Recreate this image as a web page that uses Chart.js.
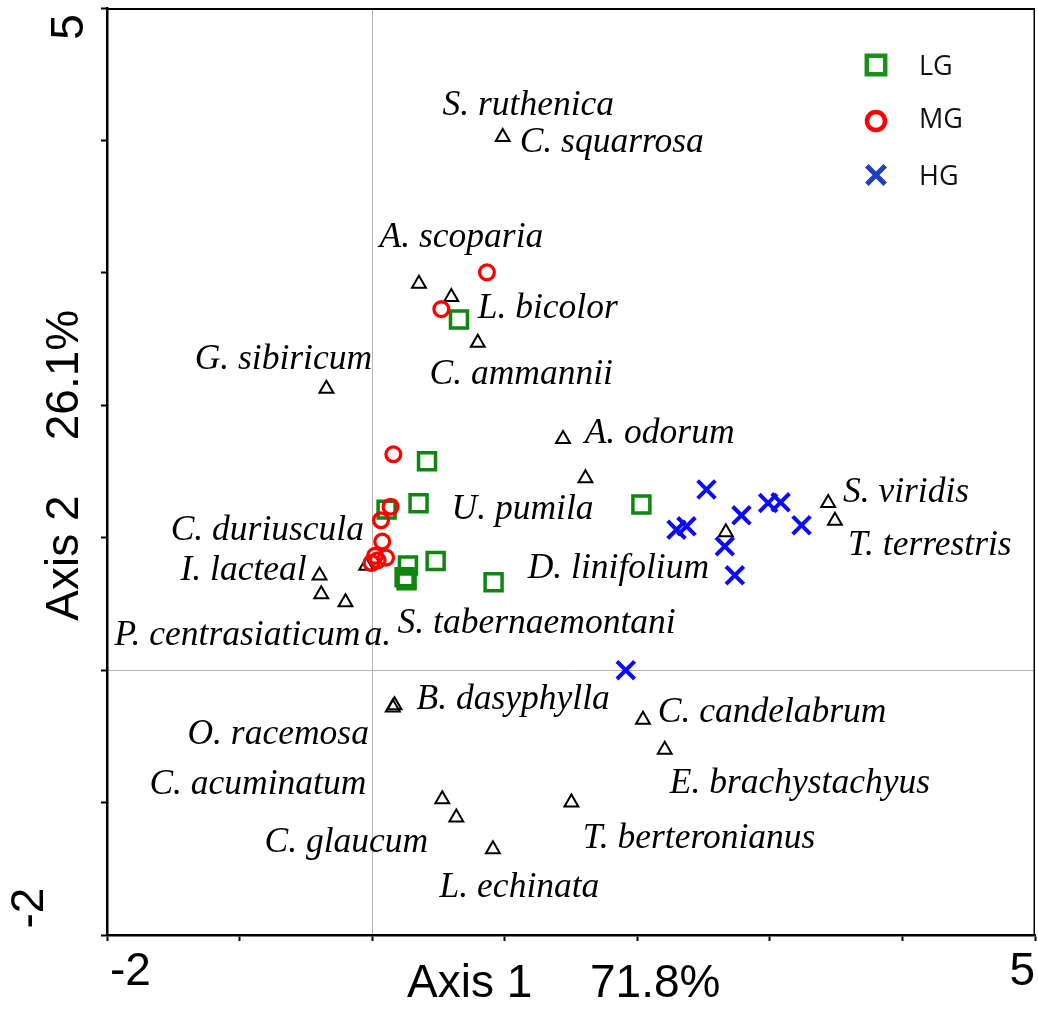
<!DOCTYPE html>
<html><head><meta charset="utf-8">
<script src="https://cdn.jsdelivr.net/npm/chart.js@4.4.1/dist/chart.umd.min.js"></script>
<style>html,body{margin:0;padding:0;background:#fff;overflow:hidden}canvas{display:block}</style>
</head><body>
<canvas id="c" width="1038" height="1010"></canvas>
<script>
// ---- data ----
const lgX = [0.655, 0.414, 0.350, 0.109, 2.031, 0.479, 0.270, 0.245, 0.260, 0.916];
const lgY = [2.648, 1.577, 1.260, 1.212, 1.250, 0.824, 0.791, 0.701, 0.678, 0.664];
const mgX = [0.866, 0.522, 0.160, 0.139, 0.067, 0.076, 0.105, 0.022, -0.005, 0.041];
const mgY = [3.004, 2.726, 1.630, 1.234, 1.132, 0.971, 0.850, 0.863, 0.809, 0.829];
const hgX = [2.522, 2.296, 2.371, 2.660, 2.786, 2.987, 3.081, 3.239, 2.736, 1.913];
const hgY = [1.364, 1.061, 1.086, 0.935, 1.169, 1.262, 1.267, 1.094, 0.716, 0.000];
const spX = [0.985, 0.353, 0.597, 0.797, -0.345, 1.440, 1.609, 2.668, 3.440, 3.491, -0.397, -0.384, -0.201, -0.045, 0.169, 0.156, 2.043, 2.207, 0.529, 0.635, 1.503, 0.911];
const spY = [4.026, 2.918, 2.817, 2.472, 2.124, 1.746, 1.449, 1.041, 1.262, 1.129, 0.714, 0.574, 0.512, 0.789, -0.265, -0.282, -0.375, -0.602, -0.975, -1.113, -1.000, -1.353];

const labelText = ['S. ruthenica','C. squarrosa','A. scoparia','L. bicolor','G. sibiricum','C. ammannii','A. odorum','S. viridis','U. pumila','C. duriuscula','T. terrestris','I. lacteal','D. linifolium','S. tabernaemontani','P. centrasiaticum','a.','B. dasyphylla','C. candelabrum','O. racemosa','C. acuminatum','E. brachystachyus','T. berteronianus','C. glaucum','L. echinata'];
const labelX = [0.531, 1.113, 0.056, 0.796, -1.339, 0.433, 1.603, 3.551, 0.599, -1.520, 3.589, -1.446, 1.173, 0.192, -1.944, -0.057, 0.335, 2.154, -1.393, -1.680, 2.245, 1.588, -0.812, 0.509];
const labelY = [4.276, 3.996, 3.278, 2.741, 2.356, 2.243, 1.797, 1.359, 1.230, 1.071, 0.958, 0.769, 0.784, 0.363, 0.277, 0.277, -0.206, -0.305, -0.471, -0.849, -0.841, -1.257, -1.287, -1.627];

const groupNames = ['LG','MG','HG'];
const xRange = [-2, 5];
const yRange = [-2, 5];
const xTitleA = 'Axis 1';
const xTitleB = '71.8%';
const yTitleA = 'Axis 2';
const yTitleB = '26.1%';

const pts = (xs, ys) => xs.map((v, i) => ({x: v, y: ys[i]}));
const GREEN = '#0f870f', RED = '#ff0000', BLUE = '#0a0aff';

const annot = {
  id: 'annot',
  beforeDatasetsDraw(chart) {
    const {ctx, scales: {x, y}} = chart;
    ctx.save();
    ctx.fillStyle = '#000';
    ctx.font = 'italic 35.5px "Liberation Serif", "Times New Roman", serif';
    ctx.textAlign = 'left';
    ctx.textBaseline = 'middle';
    labelText.forEach((t, i) => ctx.fillText(t, x.getPixelForValue(labelX[i]), y.getPixelForValue(labelY[i]) + 2));
    ctx.restore();
  },
  afterDraw(chart) {
    const {ctx, chartArea: a, scales: {x, y}} = chart;
    ctx.save();
    // top and right frame
    ctx.strokeStyle = '#000';
    ctx.lineWidth = 2;
    ctx.beginPath(); ctx.moveTo(a.left, a.top + 1); ctx.lineTo(a.right, a.top + 1); ctx.stroke();
    ctx.lineWidth = 1.5;
    ctx.beginPath(); ctx.moveTo(a.right - 0.75, a.top); ctx.lineTo(a.right - 0.75, a.bottom); ctx.stroke();

    // axis texts
    ctx.fillStyle = '#000';
    ctx.font = '46px "Liberation Sans", Arial, sans-serif';
    ctx.textBaseline = 'middle';
    ctx.textAlign = 'left';
    ctx.fillText(String(xRange[0]), x.getPixelForValue(xRange[0]) + 3, 972);
    ctx.textAlign = 'right';
    ctx.fillText(String(xRange[1]), x.getPixelForValue(xRange[1]), 972);
    ctx.textAlign = 'left';
    ctx.fillText(xTitleA, 407, 984);
    ctx.fillText(xTitleB, 590, 984);

    const rot = (t, cx, cy) => {
      ctx.save(); ctx.translate(cx, cy); ctx.rotate(-Math.PI / 2);
      ctx.textAlign = 'center'; ctx.textBaseline = 'middle';
      ctx.fillText(t, 0, 0); ctx.restore();
    };
    rot(String(yRange[1]), 70, y.getPixelForValue(yRange[1]) + 19);
    rot(String(yRange[0]), 30, y.getPixelForValue(yRange[0]) - 27);
    rot(yTitleB, 65, 375);
    rot(yTitleA, 65, 558);

    // legend
    const styles = [
      {pointStyle: 'rect', radius: 13, borderWidth: 4.5, color: '#1a8f1a'},
      {pointStyle: 'circle', radius: 9, borderWidth: 4.5, color: RED},
      {pointStyle: 'crossRot', radius: 13, borderWidth: 5, color: '#2040c4'}
    ];
    const ly = [65, 121, 175];
    const ty = [67, 120, 177];
    styles.forEach((s, i) => {
      ctx.save();
      ctx.strokeStyle = s.color; ctx.fillStyle = 'rgba(0,0,0,0)'; ctx.lineWidth = s.borderWidth;
      Chart.helpers.drawPoint(ctx, {pointStyle: s.pointStyle, radius: s.radius, rotation: 0, borderWidth: s.borderWidth}, 876, ly[i]);
      ctx.restore();
      ctx.fillStyle = '#111';
      ctx.font = '27px "Open Sans", "Liberation Sans", sans-serif';
      ctx.textAlign = 'left'; ctx.textBaseline = 'middle';
      ctx.fillText(groupNames[i], 919, ty[i]);
    });
    ctx.restore();
  }
};

const gridOpts = {
  color: c => (c.tick && c.tick.value === 0) ? '#b5b5b5' : 'rgba(0,0,0,0)',
  lineWidth: 1,
  tickColor: '#000',
  tickLength: 6,
  tickWidth: 2
};

new Chart(document.getElementById('c'), {
  type: 'scatter',
  data: {
    datasets: [
      {label: groupNames[2], data: pts(hgX, hgY), pointStyle: 'crossRot', pointRadius: 12.5, pointBorderWidth: 4, pointBorderColor: BLUE, pointBackgroundColor: 'rgba(0,0,0,0)', order: 1},
      {label: groupNames[1], data: pts(mgX, mgY), pointStyle: 'circle', pointRadius: 7.4, pointBorderWidth: 3.3, pointBorderColor: RED, pointBackgroundColor: 'rgba(0,0,0,0)', order: 2},
      {label: groupNames[0], data: pts(lgX, lgY), pointStyle: 'rect', pointRadius: 12, pointBorderWidth: 3.5, pointBorderColor: GREEN, pointBackgroundColor: 'rgba(0,0,0,0)', order: 3},
      {label: 'species', data: pts(spX, spY), pointStyle: 'triangle', pointRadius: 8, pointBorderWidth: 2, pointBorderColor: '#000', pointBackgroundColor: 'rgba(0,0,0,0)', order: 4}
    ]
  },
  options: {
    responsive: false,
    animation: false,
    events: [],
    devicePixelRatio: 1,
    layout: {autoPadding: false, padding: {top: 8, right: 3, left: 0, bottom: 0}},
    plugins: {legend: {display: false}, tooltip: {enabled: false}},
    scales: {
      x: {type: 'linear', min: xRange[0], max: xRange[1], ticks: {stepSize: 1, display: false},
          grid: gridOpts, border: {display: true, color: '#000', width: 2.5},
          afterFit(s) { s.height = 75; }},
      y: {type: 'linear', min: yRange[0], max: yRange[1], ticks: {stepSize: 1, display: false},
          grid: gridOpts, border: {display: true, color: '#000', width: 2.5},
          afterFit(s) { s.width = 107; }}
    }
  },
  plugins: [annot]
});
</script>
</body></html>
